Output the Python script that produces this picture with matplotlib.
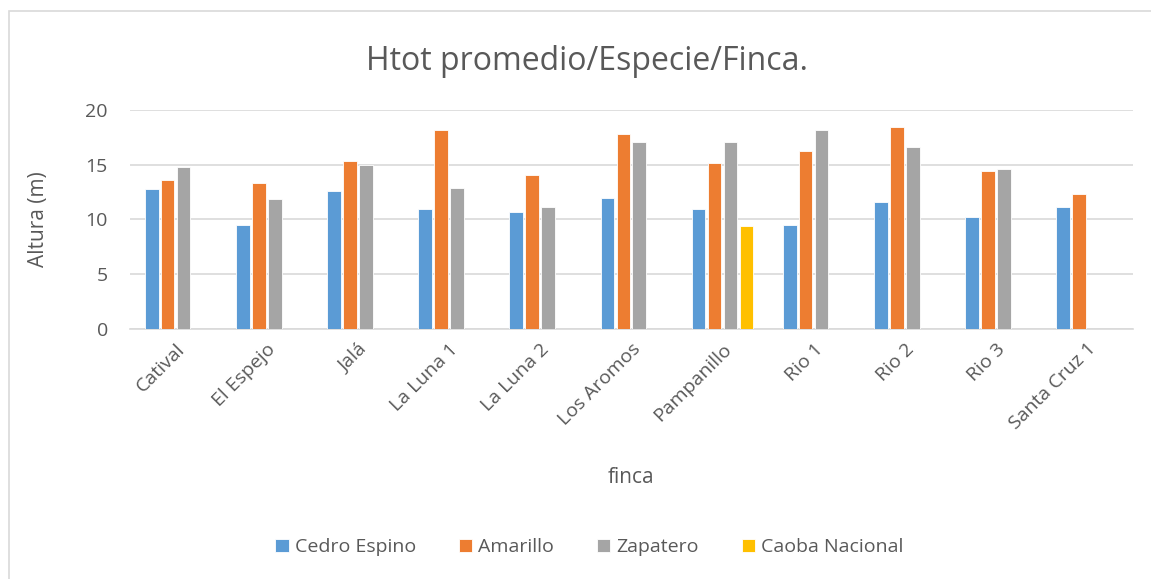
# Htot promedio por especie y finca - grafico de barras agrupadas

import numpy as np
import matplotlib.pyplot as plt
from matplotlib.patches import Rectangle

plt.rcParams['font.family'] = ['Open Sans', 'DejaVu Sans']

fincas = ["Catival", "El Espejo", "Jalá", "La Luna 1", "La Luna 2", "Los Aromos",
          "Pampanillo", "Rio 1", "Rio 2", "Rio 3", "Santa Cruz 1"]

cedro_espino = [12.74, 9.51, 12.58, 10.97, 10.67, 11.98, 10.97, 9.51, 11.55, 10.24, 11.12]
amarillo = [13.59, 13.31, 15.35, 18.15, 14.04, 17.84, 15.2, 16.23, 18.42, 14.47, 12.31]
zapatero = [14.80, 11.85, 14.95, 12.86, 11.12, 17.11, 17.11, 18.15, 16.66, 14.62, np.nan]
caoba_nacional = [np.nan, np.nan, np.nan, np.nan, np.nan, np.nan, 9.39, np.nan, np.nan, np.nan, np.nan]

series = [
    ("Cedro Espino", cedro_espino, "#5B9BD5"),
    ("Amarillo", amarillo, "#ED7D31"),
    ("Zapatero", zapatero, "#A5A5A5"),
    ("Caoba Nacional", caoba_nacional, "#FFC000"),
]

txt = "#595959"

fig = plt.figure(figsize=(11.51, 5.79), dpi=100)
ax = fig.add_axes([0.113, 0.432, 0.871, 0.378])

x = np.arange(len(fincas))
step = 0.175
width = 0.15
for i, (name, vals, col) in enumerate(series):
    ax.bar(x + (i - 1.5) * step, vals, width, color=col, label=name,
           edgecolor="white", linewidth=0.6, zorder=3)

ax.set_xlim(-0.5, len(fincas) - 0.5)
ax.set_ylim(0, 20)
ax.set_yticks([0, 5, 10, 15, 20])
ax.grid(axis="y", color="#D9D9D9", linewidth=1.2, zorder=0)
for s in ["top", "right", "left"]:
    ax.spines[s].set_visible(False)
ax.spines["bottom"].set_color("#D9D9D9")
ax.spines["bottom"].set_linewidth(1.2)
ax.tick_params(axis="both", length=0, colors=txt, labelsize=14)
ax.tick_params(axis="y", pad=16)
ax.tick_params(axis="x", pad=8)
ax.set_xticks(x)
ax.set_xticklabels(fincas, rotation=45, ha="right", rotation_mode="anchor")

ax.set_ylabel("Altura (m)", fontsize=15, color=txt, labelpad=26)
ax.set_xlabel("finca", fontsize=15, color=txt)
ax.xaxis.label.set_va("center")
ax.xaxis.set_label_coords(0.5, -0.68)

fig.text(0.510, 0.893, "Htot promedio/Especie/Finca.", fontsize=23, color=txt,
         ha="center", va="center")

fig.legend(loc="center", bbox_to_anchor=(0.512, 0.055), ncol=4, frameon=False,
           fontsize=14, labelcolor=txt, handlelength=0.7, handleheight=0.7,
           columnspacing=2.2, handletextpad=0.3)

# borde del area del grafico
fig.patches.append(Rectangle((9 / 1151, -0.1), 1.2, 1.1 - 11 / 579,
                             transform=fig.transFigure, fill=False,
                             edgecolor="#D9D9D9", linewidth=1.2))

fig.savefig("out.png", dpi=100)
